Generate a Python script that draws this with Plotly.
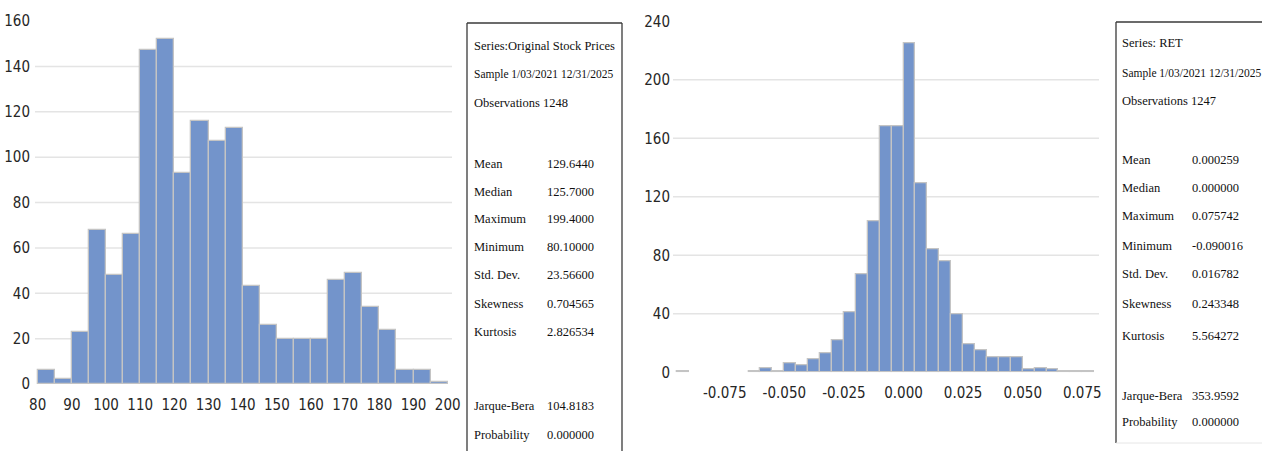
import plotly.graph_objects as go

W, H = 1262, 451

# ---------------- data ----------------
price_bin_start = [80, 85, 90, 95, 100, 105, 110, 115, 120, 125, 130, 135,
                   140, 145, 150, 155, 160, 165, 170, 175, 180, 185, 190, 195]
price_counts = [6, 2, 23, 68, 48, 66, 147, 152, 93, 116, 107, 113,
                43, 26, 20, 20, 20, 46, 49, 34, 24, 6, 6, 1]
price_bin_width = 5
price_xticks = [80, 90, 100, 110, 120, 130, 140, 150, 160, 170, 180, 190, 200]
price_yticks = [0, 20, 40, 60, 80, 100, 120, 140, 160]

ret_bin_start = [-0.095, -0.065, -0.060, -0.055, -0.050, -0.045, -0.040, -0.035,
                 -0.030, -0.025, -0.020, -0.015, -0.010, -0.005, 0.000, 0.005,
                 0.010, 0.015, 0.020, 0.025, 0.030, 0.035, 0.040, 0.045, 0.050,
                 0.055, 0.060, 0.065, 0.070, 0.075]
ret_counts = [1, 1, 3, 1, 6, 5, 9, 13, 22, 41, 67, 103, 168, 168, 225, 129,
              84, 76, 40, 19, 15, 10, 10, 10, 2, 3, 2, 1, 1, 1]
ret_bin_width = 0.005
ret_xticks = [-0.075, -0.050, -0.025, 0.000, 0.025, 0.050, 0.075]
ret_xticktext = ["-0.075", "-0.050", "-0.025", "0.000", "0.025", "0.050", "0.075"]
ret_yticks = [0, 40, 80, 120, 160, 200, 240]

price_header = ["Series:Original Stock Prices", "Sample 1/03/2021 12/31/2025", "Observations 1248"]
price_stat_names = ["Mean", "Median", "Maximum", "Minimum", "Std. Dev.", "Skewness", "Kurtosis",
                    "Jarque-Bera", "Probability"]
price_stat_values = ["129.6440", "125.7000", "199.4000", "80.10000", "23.56600", "0.704565",
                     "2.826534", "104.8183", "0.000000"]

ret_header = ["Series: RET", "Sample 1/03/2021 12/31/2025", "Observations 1247"]
ret_stat_names = price_stat_names
ret_stat_values = ["0.000259", "0.000000", "0.075742", "-0.090016", "0.016782", "0.243348",
                   "5.564272", "353.9592", "0.000000"]

# ---------------- style / layout helpers ----------------
BAR_COLOR = "#7394CB"
BAR_LINE = "#C4C4C4"
GRID = "#E4E4E4"
TICK_FONT = dict(family="Liberation Sans Narrow, Arial Narrow, DejaVu Sans Condensed, sans-serif",
                 size=15, color="#262626")
SERIF = "Liberation Serif, Times New Roman, serif"


def px_x(p):
    return p / W


def px_y(p):
    return 1 - p / H


fig = go.Figure()

fig.add_trace(go.Bar(
    x=[s + price_bin_width / 2 for s in price_bin_start], y=price_counts, width=price_bin_width,
    marker=dict(color=BAR_COLOR, line=dict(color=BAR_LINE, width=1.3)),
    xaxis="x", yaxis="y", showlegend=False, hoverinfo="x+y"))

fig.add_trace(go.Bar(
    x=[s + ret_bin_width / 2 for s in ret_bin_start], y=ret_counts, width=ret_bin_width,
    marker=dict(color=BAR_COLOR, line=dict(color=BAR_LINE, width=1.3)),
    xaxis="x2", yaxis="y2", showlegend=False, hoverinfo="x+y"))

axis_common = dict(showgrid=False, zeroline=False, showline=False, ticks="", automargin=False,
                   tickfont=TICK_FONT, fixedrange=True)

fig.update_layout(
    width=W, height=H, margin=dict(l=0, r=0, t=0, b=0, pad=0),
    paper_bgcolor="white", plot_bgcolor="white", bargap=0,
    xaxis=dict(domain=[px_x(35), px_x(452)], range=[79.21, 201.26], anchor="y",
               tickvals=price_xticks, ticklabelstandoff=10, **axis_common),
    yaxis=dict(domain=[px_y(384), px_y(21)], range=[0, 160], anchor="x",
               tickvals=price_yticks, ticklabelstandoff=4, **axis_common),
    xaxis2=dict(domain=[px_x(673), px_x(1099)], range=[-0.0967, 0.0820], anchor="y2",
                tickvals=ret_xticks, ticktext=ret_xticktext, ticklabelstandoff=10, **axis_common),
    yaxis2=dict(domain=[px_y(372.3), px_y(21.3)], range=[0, 240], anchor="x2",
                tickvals=ret_yticks, ticklabelstandoff=2, **axis_common),
)

shapes = []
# gridlines (interior ticks only, as in reference)
for v in price_yticks[1:-1]:
    shapes.append(dict(type="line", xref="x domain", yref="y", x0=0, x1=1, y0=v, y1=v,
                       line=dict(color=GRID, width=1.5), layer="below"))
for v in ret_yticks[1:-1]:
    shapes.append(dict(type="line", xref="x2 domain", yref="y2", x0=0, x1=1, y0=v, y1=v,
                       line=dict(color=GRID, width=1.5), layer="below"))

# statistics boxes
BOX = dict(color="#3A3A3A", width=1.3)
shapes += [
    dict(type="line", xref="paper", yref="paper", x0=px_x(467), x1=px_x(622), y0=px_y(23), y1=px_y(23), line=BOX),
    dict(type="line", xref="paper", yref="paper", x0=px_x(467), x1=px_x(467), y0=px_y(23), y1=px_y(460), line=BOX),
    dict(type="line", xref="paper", yref="paper", x0=px_x(622), x1=px_x(622), y0=px_y(23), y1=px_y(460), line=BOX),
    dict(type="line", xref="paper", yref="paper", x0=px_x(1116), x1=px_x(1270), y0=px_y(22), y1=px_y(22), line=BOX),
    dict(type="line", xref="paper", yref="paper", x0=px_x(1116), x1=px_x(1116), y0=px_y(22), y1=px_y(443), line=BOX),
    dict(type="line", xref="paper", yref="paper", x0=px_x(1116), x1=px_x(1270), y0=px_y(443), y1=px_y(443),
         line=dict(color="#E6E6E6", width=1)),
]
fig.update_layout(shapes=shapes)

annotations = []


def add_text(txt, x, y, size=12.5):
    annotations.append(dict(text=txt, xref="paper", yref="paper", x=px_x(x), y=px_y(y),
                            xanchor="left", yanchor="middle", showarrow=False, borderpad=0,
                            font=dict(family=SERIF, size=size, color="#111111")))


left_header_y = [46, 75, 103]
left_stat_y = [164, 192, 219, 247, 275, 304, 332, 406, 435]
for i, (t, y) in enumerate(zip(price_header, left_header_y)):
    add_text(t, 473, y, 11.5 if i == 1 else 12.5)
for n, v, y in zip(price_stat_names, price_stat_values, left_stat_y):
    add_text(n, 473, y)
    add_text(v, 546, y)

right_header_y = [43, 73, 101]
right_stat_y = [160, 188, 216, 246, 274, 304, 336, 396, 422]
for i, (t, y) in enumerate(zip(ret_header, right_header_y)):
    add_text(t, 1121, y, 11.5 if i == 1 else 12.5)
for n, v, y in zip(ret_stat_names, ret_stat_values, right_stat_y):
    add_text(n, 1121, y)
    add_text(v, 1191, y)

fig.update_layout(annotations=annotations)

fig.write_html("out.html", config={"displayModeBar": False},
               post_script="document.body.style.margin='0';document.body.style.overflow='hidden';")
